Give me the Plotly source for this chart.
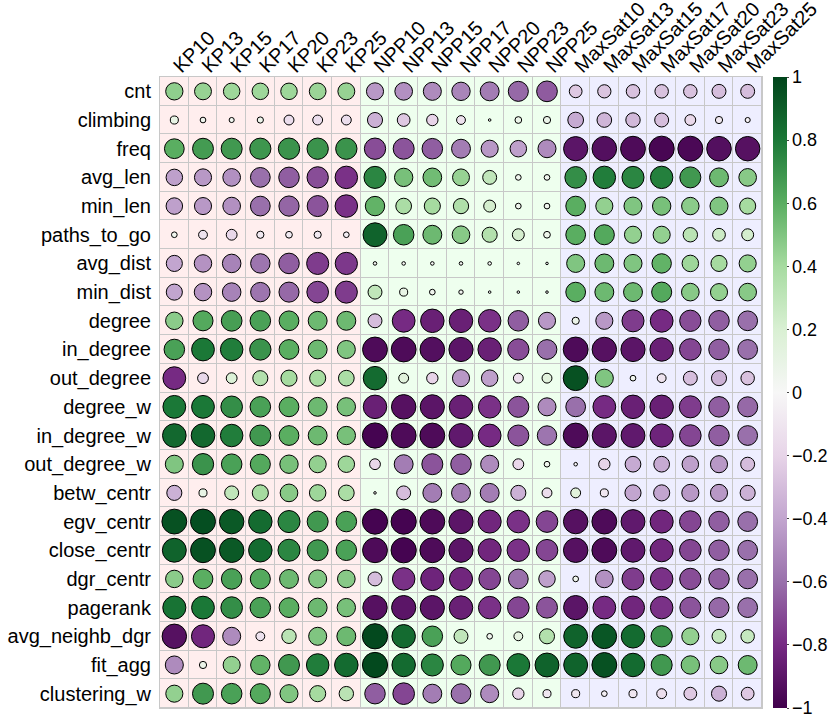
import numpy as np
import plotly.graph_objects as go

cols = ["KP10", "KP13", "KP15", "KP17", "KP20", "KP23", "KP25",
        "NPP10", "NPP13", "NPP15", "NPP17", "NPP20", "NPP23", "NPP25",
        "MaxSat10", "MaxSat13", "MaxSat15", "MaxSat17", "MaxSat20", "MaxSat23", "MaxSat25"]
groups = ["KP"] * 7 + ["NPP"] * 7 + ["MaxSat"] * 7

rows = ["cnt", "climbing", "freq", "avg_len", "min_len", "paths_to_go", "avg_dist",
        "min_dist", "degree", "in_degree", "out_degree", "degree_w", "in_degree_w",
        "out_degree_w", "betw_centr", "egv_centr", "close_centr", "dgr_centr",
        "pagerank", "avg_neighb_dgr", "fit_agg", "clustering_w"]

corr = [
    [0.46, 0.44, 0.42, 0.42, 0.42, 0.43, 0.44, -0.45, -0.48, -0.5, -0.52, -0.55, -0.62, -0.66, -0.25, -0.27, -0.28, -0.28, -0.28, -0.3, -0.3],
    [0.1, 0.05, 0.04, 0.06, -0.15, -0.15, -0.15, -0.35, -0.25, -0.2, -0.12, 0.01, 0.07, 0.08, -0.38, -0.33, -0.32, -0.3, -0.18, -0.08, -0.04],
    [0.6, 0.67, 0.68, 0.69, 0.7, 0.7, 0.7, -0.7, -0.68, -0.65, -0.55, -0.45, -0.42, -0.5, -0.9, -0.93, -0.95, -0.97, -0.96, -0.93, -0.92],
    [-0.42, -0.45, -0.48, -0.6, -0.65, -0.7, -0.78, 0.75, 0.52, 0.54, 0.44, 0.3, 0.05, 0.05, 0.72, 0.78, 0.75, 0.77, 0.68, 0.55, 0.48],
    [-0.42, -0.45, -0.48, -0.6, -0.63, -0.68, -0.78, 0.58, 0.38, 0.4, 0.36, 0.22, 0.05, 0.05, 0.6, 0.45, 0.5, 0.52, 0.47, 0.5, 0.4],
    [0.05, -0.12, -0.18, -0.08, -0.07, -0.08, -0.05, 0.88, 0.65, 0.55, 0.48, 0.35, 0.22, 0.07, 0.6, 0.62, 0.45, 0.45, 0.32, 0.25, 0.22],
    [-0.4, -0.47, -0.53, -0.58, -0.65, -0.75, -0.76, 0.02, 0.02, 0.02, 0.02, 0.02, 0.01, 0.01, 0.5, 0.55, 0.5, 0.58, 0.42, 0.4, 0.45],
    [-0.4, -0.47, -0.53, -0.58, -0.62, -0.72, -0.75, 0.3, 0.1, 0.05, 0.03, 0.01, 0.01, 0.01, 0.6, 0.55, 0.55, 0.62, 0.48, 0.45, 0.48],
    [0.47, 0.62, 0.66, 0.65, 0.6, 0.55, 0.55, -0.3, -0.8, -0.85, -0.85, -0.78, -0.65, -0.45, 0.08, -0.45, -0.75, -0.8, -0.7, -0.65, -0.6],
    [0.65, 0.8, 0.78, 0.7, 0.6, 0.55, 0.5, -0.95, -0.95, -0.93, -0.9, -0.85, -0.7, -0.6, -0.95, -0.92, -0.9, -0.85, -0.72, -0.65, -0.6],
    [-0.8, -0.18, 0.18, 0.35, 0.4, 0.4, 0.38, 0.85, 0.15, -0.2, -0.45, -0.42, -0.15, 0.15, 0.95, 0.5, 0.05, -0.12, -0.3, -0.35, -0.28],
    [0.8, 0.8, 0.72, 0.65, 0.6, 0.55, 0.52, -0.85, -0.92, -0.9, -0.85, -0.78, -0.68, -0.5, -0.6, -0.8, -0.85, -0.85, -0.75, -0.65, -0.62],
    [0.86, 0.86, 0.78, 0.68, 0.6, 0.55, 0.52, -0.98, -0.95, -0.95, -0.88, -0.8, -0.68, -0.58, -0.95, -0.9, -0.88, -0.83, -0.72, -0.65, -0.6],
    [0.5, 0.7, 0.65, 0.62, 0.52, 0.45, 0.42, -0.18, -0.55, -0.68, -0.65, -0.5, -0.18, 0.05, -0.02, -0.2, -0.38, -0.38, -0.42, -0.45, -0.3],
    [-0.35, 0.1, 0.3, 0.4, 0.48, 0.42, 0.38, 0.01, -0.3, -0.55, -0.55, -0.55, -0.35, -0.15, 0.15, -0.1, -0.4, -0.4, -0.45, -0.45, -0.35],
    [0.95, 0.96, 0.92, 0.85, 0.75, 0.68, 0.65, -0.98, -0.98, -0.95, -0.9, -0.82, -0.78, -0.72, -0.92, -0.95, -0.88, -0.82, -0.72, -0.65, -0.6],
    [0.88, 0.95, 0.92, 0.85, 0.75, 0.68, 0.65, -0.95, -0.98, -0.95, -0.9, -0.82, -0.78, -0.72, -0.92, -0.95, -0.88, -0.82, -0.72, -0.65, -0.6],
    [0.47, 0.6, 0.65, 0.62, 0.55, 0.5, 0.48, -0.3, -0.78, -0.83, -0.82, -0.72, -0.6, -0.42, 0.05, -0.48, -0.75, -0.78, -0.7, -0.65, -0.6],
    [0.82, 0.8, 0.72, 0.65, 0.6, 0.55, 0.52, -0.92, -0.9, -0.9, -0.85, -0.78, -0.72, -0.68, -0.9, -0.8, -0.82, -0.78, -0.68, -0.62, -0.6],
    [-0.92, -0.82, -0.5, -0.12, 0.32, 0.5, 0.55, 0.98, 0.85, 0.65, 0.3, 0.05, 0.12, 0.35, 0.88, 0.93, 0.85, 0.7, 0.45, 0.3, 0.28],
    [-0.5, 0.08, 0.45, 0.58, 0.68, 0.78, 0.85, 0.98, 0.85, 0.75, 0.62, 0.68, 0.8, 0.88, 0.88, 0.95, 0.85, 0.68, 0.52, 0.48, 0.55],
    [0.45, 0.68, 0.65, 0.62, 0.5, 0.4, 0.32, -0.65, -0.72, -0.55, -0.6, -0.5, -0.2, -0.1, -0.1, -0.05, -0.1, -0.15, -0.25, -0.35, -0.25],
]

bg = {"KP": "#FFEEEE", "NPP": "#EEFFEE", "MaxSat": "#EEEEFF"}
gidx = {"KP": 0, "NPP": 1, "MaxSat": 2}

prgn = [[0.0, "#40004b"], [0.1, "#762a83"], [0.2, "#9970ab"], [0.3, "#c2a5cf"],
        [0.4, "#e7d4e8"], [0.5, "#f7f7f7"], [0.6, "#d9f0d3"], [0.7, "#a6dba0"],
        [0.8, "#5aae61"], [0.9, "#1b7837"], [1.0, "#00441b"]]

z = np.array(corr)
nr, nc = z.shape
xx, yy = np.meshgrid(np.arange(nc), np.arange(nr))

fig = go.Figure()

# background cells by group, gaps show the grey grid
zbg = [[gidx[g] for g in groups] for _ in rows]
fig.add_trace(go.Heatmap(
    z=zbg, x=list(range(nc)), y=list(range(nr)), xgap=1, ygap=1,
    colorscale=[[0, bg["KP"]], [0.5, bg["NPP"]], [1, bg["MaxSat"]]],
    zmin=0, zmax=2, showscale=False, hoverinfo="skip"))

fig.add_trace(go.Scatter(
    x=xx.ravel(), y=yy.ravel(), mode="markers",
    marker=dict(size=25.5 * np.sqrt(np.abs(z.ravel())), color=z.ravel(), opacity=1,
                colorscale=prgn, cmin=-1, cmax=1,
                line=dict(color="black", width=1),
                colorbar=dict(x=1.018, xanchor="left", xpad=0, ypad=0, y=0.5, len=1.0,
                              thickness=14, outlinewidth=0,
                              tickvals=[-1, -0.8, -0.6, -0.4, -0.2, 0, 0.2, 0.4, 0.6, 0.8, 1],
                              ticktext=["\u22121", "\u22120.8", "\u22120.6", "\u22120.4", "\u22120.2", "0",
                                        "0.2", "0.4", "0.6", "0.8", "1"],
                              ticks="outside", ticklen=2, tickfont=dict(size=18))),
    showlegend=False, hoverinfo="skip"))

fig.update_xaxes(range=[-0.5, nc - 0.5], side="top", tickvals=list(range(nc)), ticktext=cols,
                 tickangle=-45, showgrid=False, zeroline=False, ticks="", automargin=False,
                 ticklabelstandoff=-9,
                 showline=True, linecolor="#c8c8c8", linewidth=1, mirror=True,
                 tickfont=dict(size=20, color="black"))
fig.update_yaxes(range=[nr - 0.5, -0.5], tickvals=list(range(nr)), ticktext=rows,
                 showgrid=False, zeroline=False, ticks="", automargin=False,
                 ticklabelstandoff=4,
                 showline=True, linecolor="#c8c8c8", linewidth=1, mirror=True,
                 tickfont=dict(size=20, color="black"))

fig.update_layout(width=830, height=723,
                  margin=dict(l=160, r=68, t=77, b=15, autoexpand=False),
                  plot_bgcolor="#c8c8c8", paper_bgcolor="white",
                  font=dict(family="Liberation Sans, Arial, sans-serif", color="black"))

fig.write_html("out.html", config={"displayModeBar": False},
               post_script="document.body.style.margin='0';")
